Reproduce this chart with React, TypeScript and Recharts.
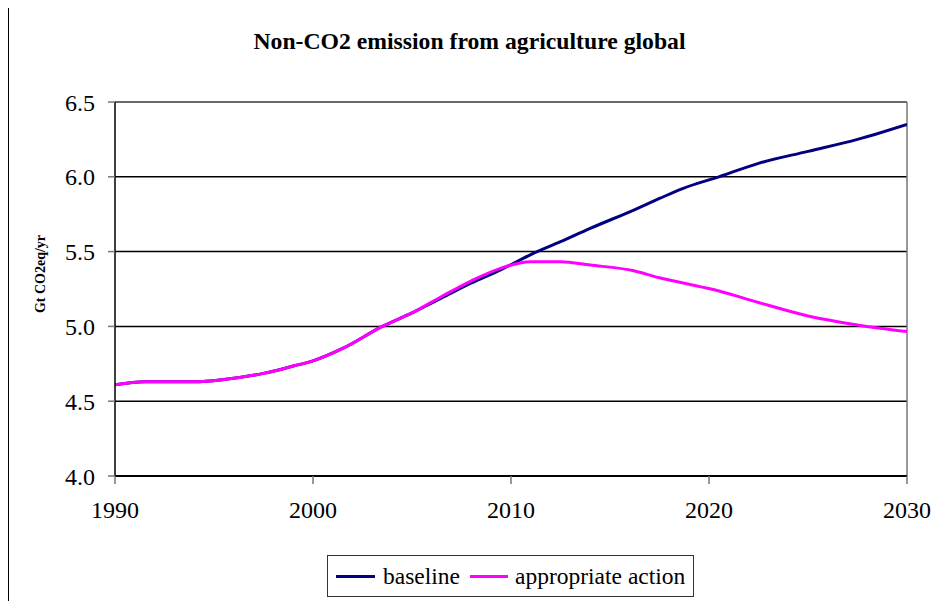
import React from "react";
import {
  LineChart,
  Line,
  XAxis,
  YAxis,
  CartesianGrid,
  ReferenceLine,
  Legend,
} from "recharts";

const years = [
  1990, 1991.5, 1994, 1995.5, 1997.5, 1999, 2000, 2001.5, 2003.5, 2005, 2006.5,
  2008, 2009.5, 2011, 2012.5, 2014, 2016.2, 2017.5, 2018.7, 2020.5, 2022.5,
  2025, 2027.5, 2030,
];
const baseline = [
  4.61, 4.63, 4.63, 4.645, 4.686, 4.735, 4.77, 4.853, 5.0, 5.09, 5.19, 5.29,
  5.38, 5.48, 5.566, 5.655, 5.778, 5.855, 5.923, 6.0, 6.09, 6.17, 6.25, 6.35,
];
const appropriateAction = [
  4.61, 4.63, 4.63, 4.645, 4.686, 4.735, 4.77, 4.853, 5.0, 5.09, 5.2, 5.305,
  5.39, 5.432, 5.432, 5.41, 5.372, 5.325, 5.29, 5.237, 5.16, 5.07, 5.01, 4.965,
];
const xTicks = [1990, 2000, 2010, 2020, 2030];
const yTicks = [4.0, 4.5, 5.0, 5.5, 6.0, 6.5];

const seriesNames = { baseline: "baseline", action: "appropriate action" };

const data = years.map((y, i) => ({
  year: y,
  baseline: baseline[i],
  action: appropriateAction[i],
}));

const FONT = "'Liberation Serif', 'Times New Roman', serif";

const LegendBox = () => (
  <div
    style={{
      boxSizing: "border-box",
      width: 367,
      height: 42,
      border: "1px solid #333",
      display: "flex",
      alignItems: "center",
      paddingLeft: 8,
      fontFamily: FONT,
      fontSize: 23.5,
      color: "#000",
      background: "#fff",
      whiteSpace: "nowrap",
    }}
  >
    <span
      style={{ display: "inline-block", width: 39, height: 3, background: "#000080", marginRight: 8 }}
    />
    <span style={{ marginRight: 10 }}>{seriesNames.baseline}</span>
    <span
      style={{ display: "inline-block", width: 38, height: 3, background: "#FF00FF", marginRight: 7 }}
    />
    <span>{seriesNames.action}</span>
  </div>
);

export default function App() {
  return (
    <div
      style={{
        position: "relative",
        width: 939,
        height: 601,
        margin: "-8px 0 0 -8px",
        background: "#fff",
        overflow: "hidden",
        fontFamily: FONT,
      }}
    >
      <div
        style={{
          position: "absolute",
          left: 7,
          top: 6,
          width: 960,
          height: 620,
          borderLeft: "2px solid #000",
          borderTop: "2px solid #000",
          boxSizing: "border-box",
        }}
      />
      <div
        style={{
          position: "absolute",
          left: 0,
          width: 939,
          top: 28,
          textAlign: "center",
          fontWeight: "bold",
          fontSize: 23.7,
          fontFamily: FONT,
          color: "#000",
          whiteSpace: "nowrap",
        }}
      >
        Non-CO2 emission from agriculture global
      </div>
      <div
        style={{
          position: "absolute",
          left: 41,
          top: 274,
          transform: "translate(-50%, -50%) rotate(-90deg)",
          fontWeight: "bold",
          fontSize: 14,
          fontFamily: FONT,
          whiteSpace: "nowrap",
          color: "#000",
        }}
      >
        Gt CO2eq/yr
      </div>
      <div style={{ position: "absolute", left: 0, top: 0 }}>
        <LineChart
          width={939}
          height={601}
          data={data}
          margin={{ top: 102, right: 32, bottom: 95, left: 55 }}
        >
          <CartesianGrid horizontal vertical={false} stroke="#000" strokeWidth={1.5} />
          <ReferenceLine y={6.5} stroke="#777" strokeWidth={1.5} />
          <ReferenceLine x={2030} stroke="#777" strokeWidth={1.5} />
          <XAxis
            dataKey="year"
            type="number"
            domain={[1990, 2030]}
            ticks={xTicks}
            interval={0}
            allowDataOverflow
            axisLine={{ stroke: "#000", strokeWidth: 2 }}
            tickLine={{ stroke: "#777", strokeWidth: 1.5 }}
            tickSize={8}
            tickMargin={17}
            height={30}
            tick={{ fill: "#000", fontSize: 24, fontFamily: FONT }}
          />
          <YAxis
            type="number"
            domain={[4, 6.5]}
            ticks={yTicks}
            interval={0}
            width={60}
            tickFormatter={(v: number) => v.toFixed(1)}
            axisLine={{ stroke: "#000", strokeWidth: 1.5 }}
            tickLine={{ stroke: "#777", strokeWidth: 1.5 }}
            tickSize={7}
            tickMargin={13}
            tick={{ fill: "#000", fontSize: 24, fontFamily: FONT }}
          />
          <Legend
            layout="horizontal"
            verticalAlign="middle"
            align="center"
            content={() => <LegendBox />}
            wrapperStyle={{ position: "absolute", left: 327, top: 555, width: 367, height: 42 }}
          />
          <Line
            type="monotone"
            dataKey="baseline"
            name={seriesNames.baseline}
            stroke="#000080"
            strokeWidth={3}
            dot={false}
            isAnimationActive={false}
          />
          <Line
            type="monotone"
            dataKey="action"
            name={seriesNames.action}
            stroke="#FF00FF"
            strokeWidth={3}
            dot={false}
            isAnimationActive={false}
          />
        </LineChart>
      </div>
    </div>
  );
}
